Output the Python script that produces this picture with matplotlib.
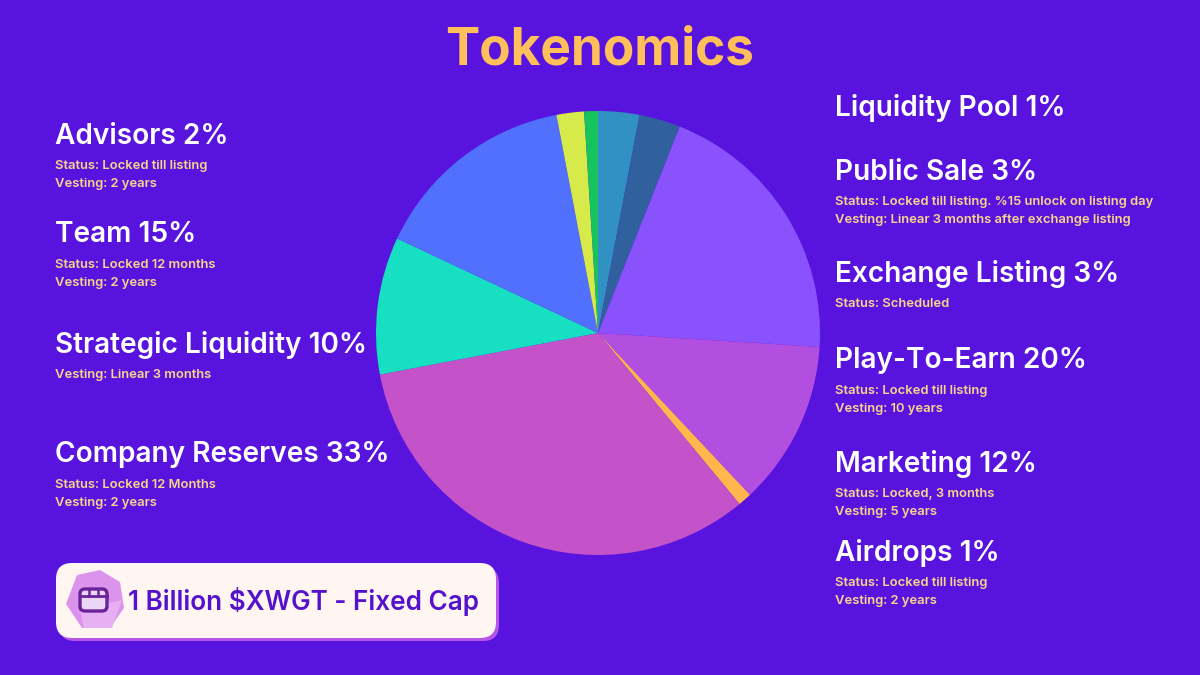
import matplotlib
matplotlib.use("Agg")
import matplotlib.pyplot as plt
from matplotlib.patches import FancyBboxPatch, Polygon

# ---------------- data ----------------
categories = ["Public Sale", "Exchange Listing", "Play-To-Earn", "Marketing", "Airdrops",
              "Company Reserves", "Strategic Liquidity", "Team", "Advisors", "Liquidity Pool"]
shares = [3, 3, 20, 12, 1, 33, 10, 15, 2, 1]
colors = ["#3191c2", "#30609e", "#8a52fd", "#b24fe0", "#ffb74d",
          "#c453c9", "#16e0c1", "#5070fd", "#d6ea4a", "#16c35c"]

left_items = ["Advisors", "Team", "Strategic Liquidity", "Company Reserves"]
right_items = ["Liquidity Pool", "Public Sale", "Exchange Listing", "Play-To-Earn", "Marketing", "Airdrops"]
details = {
    "Advisors": ["Status: Locked till listing", "Vesting: 2 years"],
    "Team": ["Status: Locked 12 months", "Vesting: 2 years"],
    "Strategic Liquidity": ["Vesting: Linear 3 months"],
    "Company Reserves": ["Status: Locked 12 Months", "Vesting: 2 years"],
    "Liquidity Pool": [],
    "Public Sale": ["Status: Locked till listing. %15 unlock on listing day",
                    "Vesting: Linear 3 months after exchange listing"],
    "Exchange Listing": ["Status: Scheduled"],
    "Play-To-Earn": ["Status: Locked till listing", "Vesting: 10 years"],
    "Marketing": ["Status: Locked, 3 months", "Vesting: 5 years"],
    "Airdrops": ["Status: Locked till listing", "Vesting: 2 years"],
}
title = "Tokenomics"
supply_text = "1 Billion $XWGT - Fixed Cap"

# ---------------- layout ----------------
W, H = 1200, 675
BG = "#5814de"
TITLE_C = "#ffbf5a"
SUB_C = "#f9d48c"
FONT = ["Inter", "DejaVu Sans"]

fig = plt.figure(figsize=(W / 100, H / 100), dpi=100, facecolor=BG)
ax = fig.add_axes([0, 0, 1, 1])
ax.set_facecolor(BG)

def Y(ypx):
    return H - ypx

ax.pie(shares, colors=colors, startangle=90, counterclock=False,
       center=(598, Y(333)), radius=222, wedgeprops=dict(linewidth=0))
ax.set_xlim(0, W)
ax.set_ylim(0, H)
ax.set_aspect("equal")
ax.axis("off")

ax.text(600, Y(51), title, ha="center", va="center", fontsize=37, fontweight="bold",
        color=TITLE_C, family=FONT)

share_of = dict(zip(categories, shares))
left_y = [136, 235, 345, 455]
right_y = [108, 172, 274, 361, 464, 553]

def block(x, y, name):
    ax.text(x, Y(y), f"{name} {share_of[name]}%", ha="left", va="center", fontsize=20.2,
            fontweight="semibold", color="white", family=FONT)
    for i, line in enumerate(details[name]):
        ax.text(x, Y(y + 30 + 18 * i), line, ha="left", va="center", fontsize=9.35,
                fontweight="semibold", color=SUB_C, family=FONT)

for name, y in zip(left_items, left_y):
    block(55, y, name)
for name, y in zip(right_items, right_y):
    block(835, y, name)

# supply box
shadow = FancyBboxPatch((59, Y(641)), 440, 74, boxstyle="round,pad=0,rounding_size=16",
                        facecolor="#b457e6", edgecolor="none")
ax.add_patch(shadow)
box = FancyBboxPatch((56, Y(638)), 440, 75, boxstyle="round,pad=0,rounding_size=16",
                     facecolor="#fff6f1", edgecolor="none")
ax.add_patch(box)
blob = Polygon([(77, Y(575)), (100, Y(570)), (120, Y(582)), (124, Y(608)),
                (110, Y(628)), (82, Y(628)), (66, Y(604))],
               closed=True, facecolor="#dc93ec", edgecolor="none")
ax.add_patch(blob)
blob2 = Polygon([(80, Y(610)), (122, Y(600)), (112, Y(628)), (84, Y(628))],
                closed=True, facecolor="#e7b0f2", edgecolor="none")
ax.add_patch(blob2)
icon = FancyBboxPatch((80, Y(611)), 27, 22, boxstyle="round,pad=0,rounding_size=5",
                      facecolor="#ecd6f7", edgecolor="#6a2399", linewidth=2.4)
ax.add_patch(icon)
ax.plot([80, 107], [Y(596), Y(596)], color="#6a2399", lw=2)
for xx in (89, 98):
    ax.plot([xx, xx], [Y(590), Y(596)], color="#6a2399", lw=1.8)

ax.text(128, Y(601), supply_text, ha="left", va="center", fontsize=18.8,
        fontweight="semibold", color="#5512cc", family=FONT)

fig.savefig("out.png", dpi=100, facecolor=BG)
